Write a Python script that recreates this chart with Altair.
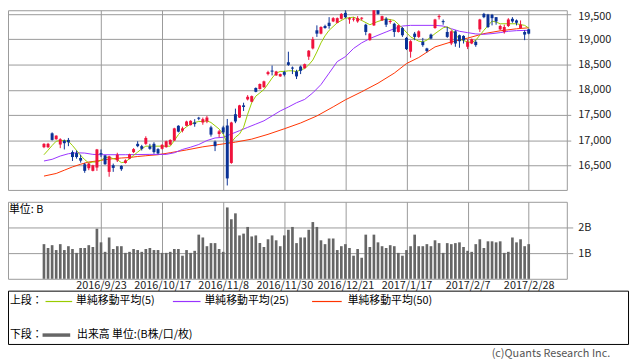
import altair as alt
import pandas as pd

FONT = "Noto Sans CJK JP"
RED = "#f0123c"
BLUE = "#0a3296"
C5 = "#99cc00"
C25 = "#9933ff"
C50 = "#ff3300"
GRID = "#999999"

dates = ["2016/9/23", "2016/10/17", "2016/11/8", "2016/11/30",
         "2016/12/21", "2017/1/17", "2017/2/7", "2017/2/28"]
date_pos = [14, 29, 44, 59, 74, 89, 104, 119]
price_ticks = [16500, 17000, 17500, 18000, 18500, 19000, 19500]
vol_ticks = [1, 2]

open_ = [16860, 16860, 17135, 17017, 16913, 16991, 17004, 16762, 16743, 16645,
         16521, 16442, 16390, 16455, 16743, 16697, 16370, 16501, 16599, 16488,
         16547, 16632, 16762, 16926, 16880, 16926, 16874, 16926, 16821, 16828,
         16860, 16913, 16991, 17285, 17187, 17285, 17298, 17350, 17445, 17350,
         17370, 17253, 16971, 17122, 17253, 17290, 16547, 17514, 17448, 17690,
         17808, 17762, 18036, 18017, 18050, 18311, 18380, 18285, 18265, 18350,
         18546, 18440, 18363, 18461, 18428, 18657, 18820, 19180, 19114, 19265,
         19330, 19356, 19330, 19408, 19526, 19395, 19392, 19356, 19410, 19291,
         18984, 19278, 19604, 19376, 19408, 19345, 19310, 19147, 19225, 19029,
         18755, 19114, 19049, 18951, 18820, 19095, 19225, 19442, 19362, 19147,
         18918, 19160, 19082, 19069, 18853, 18918, 18951, 19199, 19506, 19493,
         19487, 19441, 19199, 19147, 19265, 19408, 19376, 19225, 19147, 19199]
high = [16939, 16945, 17154, 17095, 17037, 17011, 17043, 16795, 16795, 16710,
        16547, 16553, 16510, 16825, 16815, 16705, 16690, 16534, 16749, 16501,
        16619, 16730, 16841, 16978, 16906, 17076, 16926, 16958, 16840, 16920,
        16990, 17015, 17245, 17295, 17266, 17385, 17395, 17416, 17462, 17448,
        17481, 17285, 16991, 17200, 17285, 17420, 17365, 17625, 17700, 17742,
        17893, 17885, 18045, 18125, 18180, 18376, 18481, 18375, 18320, 18376,
        18755, 18461, 18396, 18481, 18520, 18788, 19049, 19278, 19260, 19291,
        19441, 19441, 19435, 19520, 19604, 19441, 19441, 19461, 19441, 19310,
        19125, 19604, 19617, 19470, 19441, 19395, 19330, 19290, 19245, 19049,
        18984, 19147, 19180, 19029, 18833, 19114, 19408, 19493, 19395, 19245,
        19180, 19180, 19095, 19082, 19003, 19015, 18984, 19408, 19526, 19506,
        19506, 19441, 19291, 19291, 19421, 19441, 19395, 19376, 19180, 19210]
low = [16841, 16841, 16991, 17010, 16841, 16815, 16880, 16586, 16632, 16553,
       16351, 16403, 16380, 16390, 16664, 16510, 16273, 16370, 16566, 16390,
       16534, 16620, 16743, 16860, 16795, 16906, 16808, 16730, 16720, 16815,
       16850, 16900, 16985, 17155, 17154, 17275, 17290, 17266, 17396, 17305,
       17337, 17070, 16782, 17056, 17122, 16100, 16530, 17337, 17440, 17579,
       17788, 17750, 17950, 18005, 18040, 18285, 18285, 18275, 18255, 18265,
       18474, 18311, 18213, 18311, 18420, 18592, 18801, 19049, 19100, 19212,
       19212, 19343, 19320, 19395, 19421, 19310, 19356, 19330, 19376, 19082,
       18975, 19265, 19487, 19365, 19245, 19310, 19049, 19135, 19049, 18788,
       18637, 18984, 19029, 18853, 18742, 19003, 19212, 19395, 19291, 19029,
       18886, 18853, 18833, 18918, 18807, 18905, 18853, 19147, 19421, 19225,
       19278, 19291, 19180, 19114, 19245, 19330, 19278, 19212, 18984, 19100]
close = [16926, 16926, 17004, 17089, 17017, 16939, 16958, 16664, 16664, 16593,
         16390, 16534, 16501, 16815, 16717, 16521, 16677, 16449, 16710, 16423,
         16599, 16717, 16821, 16880, 16828, 17043, 16828, 16762, 16736, 16906,
         16978, 17004, 17233, 17168, 17233, 17370, 17383, 17318, 17425, 17416,
         17448, 17109, 16880, 17174, 17154, 16240, 17350, 17370, 17690, 17658,
         17860, 17873, 17958, 18115, 18167, 18350, 18360, 18363, 18311, 18298,
         18494, 18420, 18265, 18376, 18507, 18775, 19003, 19114, 19245, 19225,
         19265, 19421, 19421, 19506, 19441, 19421, 19412, 19421, 19430, 19147,
         19114, 19591, 19506, 19461, 19291, 19365, 19147, 19278, 19082, 18807,
         18964, 19049, 19160, 18886, 18768, 19016, 19395, 19462, 19342, 19049,
         19160, 18918, 18964, 18984, 18951, 19003, 18886, 19395, 19441, 19245,
         19421, 19356, 19265, 19245, 19395, 19356, 19330, 19291, 19095, 19114]
volume = [1.35, 1.20, 1.31, 1.12, 1.35, 1.12, 1.27, 1.16, 1.01, 1.20,
          1.20, 1.31, 1.24, 1.95, 1.42, 1.05, 1.61, 1.16, 1.27, 1.27,
          1.01, 1.05, 1.16, 1.12, 1.05, 1.16, 1.20, 1.12, 1.12, 1.01,
          1.01, 1.05, 1.16, 1.16, 0.90, 1.12, 1.01, 1.09, 1.72, 1.61,
          1.27, 1.39, 1.39, 1.16, 1.05, 2.78, 2.32, 2.55, 1.69, 1.76,
          2.02, 1.65, 1.69, 1.39, 1.24, 1.54, 1.69, 1.50, 1.27, 1.69,
          1.91, 2.02, 1.39, 1.61, 1.61, 1.91, 2.21, 2.02, 1.50, 1.35,
          1.57, 1.57, 1.12, 1.27, 1.35, 1.20, 0.90, 1.16, 0.82, 1.72,
          1.24, 1.72, 1.42, 1.27, 1.20, 1.31, 1.27, 1.01, 0.90, 1.12,
          1.27, 1.72, 1.27, 1.27, 1.35, 1.27, 1.50, 1.39, 1.01, 1.39,
          1.35, 1.39, 1.42, 1.24, 1.09, 1.05, 1.35, 1.54, 1.20, 1.46,
          1.46, 1.42, 1.46, 1.01, 1.05, 1.61, 1.42, 1.54, 1.27, 1.35]

ma5_pos = [0, 1, 2, 3, 4, 5, 6, 7, 8, 9, 10, 11, 12, 13, 14, 15, 16, 17, 18, 19,
           20, 21, 22, 23, 24, 25, 31, 32, 33, 34, 35, 36, 37, 38, 39, 40, 41,
           42, 43, 44, 45, 46, 47, 48, 49, 50, 51, 52, 53, 54, 55, 56, 57, 58,
           59, 60, 61, 62, 63, 64, 65, 66, 67, 68, 69, 70, 72, 74, 76, 78, 80,
           82, 84, 86, 88, 90, 92, 93, 94, 96, 98, 99, 100, 102, 104, 105, 106,
           108, 110, 111, 112, 114, 116, 118, 119]
ma5 = [16710, 16800, 16893, 16978, 16991, 16991, 16978, 16893, 16795, 16697,
       16612, 16547, 16566, 16566, 16599, 16651, 16664, 16632, 16612, 16553,
       16566, 16632, 16697, 16762, 16828, 16880, 16880, 16991, 17109, 17200,
       17266, 17318, 17350, 17370, 17370, 17383, 17350, 17285, 17220, 17122,
       16939, 16958, 17056, 17122, 17253, 17514, 17742, 17873, 17938, 18004,
       18115, 18232, 18330, 18363, 18363, 18376, 18376, 18360, 18396, 18420,
       18494, 18590, 18750, 18930, 19070, 19180, 19330, 19420, 19441, 19376,
       19291, 19356, 19408, 19376, 19225, 19049, 18964, 18951, 18984, 19114,
       19230, 19250, 19199, 19003, 18951, 18938, 18984, 19180, 19363, 19343,
       19310, 19310, 19310, 19278, 19225]

ma25_pos = [0, 2, 4, 6, 8, 10, 12, 14, 20, 26, 30, 32, 34, 36, 38, 40, 42, 44,
            46, 48, 50, 52, 54, 56, 58, 60, 62, 64, 66, 68, 70, 72, 74, 76, 78,
            80, 82, 84, 86, 88, 90, 96, 98, 100, 102, 104, 106, 108, 110, 112,
            114, 116, 119]
ma25 = [16586, 16619, 16684, 16730, 16749, 16743, 16717, 16710, 16710, 16717,
        16717, 16749, 16815, 16860, 16913, 16991, 17043, 17056, 17122, 17187,
        17253, 17318, 17383, 17481, 17579, 17657, 17742, 17808, 17938, 18102,
        18330, 18559, 18657, 18820, 18931, 19016, 19082, 19147, 19212, 19265,
        19278, 19278, 19265, 19212, 19160, 19134, 19108, 19101, 19114, 19134,
        19160, 19173, 19180]

ma50_pos = [0, 3, 5, 7, 9, 11, 13, 15, 17, 19, 21, 23, 25, 28, 31, 35, 39, 43,
            47, 51, 55, 59, 63, 67, 71, 74, 78, 82, 86, 89, 92, 96, 100, 104,
            108, 112, 116, 119]
ma50 = [16286, 16338, 16403, 16468, 16521, 16566, 16586, 16612, 16632, 16645,
        16655, 16675, 16690, 16710, 16750, 16805, 16867, 16913, 16960, 17020,
        17115, 17225, 17340, 17480, 17660, 17800, 17960, 18130, 18330, 18520,
        18640, 18850, 18950, 19025, 19114, 19170, 19210, 19230]

df = pd.DataFrame({"i": list(range(len(close))), "open": open_, "high": high,
                   "low": low, "close": close, "vol": volume})
df5 = pd.DataFrame({"i": ma5_pos, "v": ma5})
df25 = pd.DataFrame({"i": ma25_pos, "v": ma25})
df50 = pd.DataFrame({"i": ma50_pos, "v": ma50})
one = pd.DataFrame({"k": [0]})

PW = 566
x_scale = alt.Scale(domain=[(8 - 40) / 4.2, (574 - 40) / 4.2], nice=False, zero=False)
y_scale = alt.Scale(domain=[16011, 19578], nice=False, zero=False, clamp=True)

x_top_axis = alt.Axis(values=date_pos, labels=False, ticks=False, domain=False,
                      grid=True, title=None)
y_top_axis = alt.Axis(orient="right", values=price_ticks, format=",d", tickSize=4,
                      labelPadding=7, domain=False, grid=True, title=None,
                      labelOffset={"condition": {"test": "datum.value >= 19500", "value": 2},
                                   "value": 0})


def X():
    return alt.X("i:Q", scale=x_scale, axis=x_top_axis)


def Y(field):
    return alt.Y(field, scale=y_scale, axis=y_top_axis)


dir_color = alt.Color("dir:N", scale=alt.Scale(domain=["up", "down"], range=[RED, BLUE]),
                      legend=None)
calc = "datum.close >= datum.open ? 'up' : 'down'"

l50 = alt.Chart(df50).mark_line(color=C50, strokeWidth=1).encode(x=X(), y=Y("v:Q"))
l25 = alt.Chart(df25).mark_line(color=C25, strokeWidth=1).encode(x=X(), y=Y("v:Q"))
l5 = alt.Chart(df5).mark_line(color=C5, strokeWidth=1).encode(x=X(), y=Y("v:Q"))
wick = alt.Chart(df).transform_calculate(dir=calc).mark_rule(strokeWidth=1).encode(
    x=X(), y=Y("low:Q"), y2="high:Q", color=dir_color)
body = alt.Chart(df).transform_calculate(dir=calc).mark_bar(size=3).encode(
    x=X(), y=Y("open:Q"), y2="close:Q", color=dir_color)

top = alt.layer(l50, l25, l5, wick, body).properties(width=PW, height=182)

label_expr = "[" + ",".join("'%s'" % d for d in dates) + "][indexof([" + \
    ",".join(str(p) for p in date_pos) + "], datum.value)]"

vol_bars = alt.Chart(df).mark_bar(size=2.7, color="#666666").encode(
    x=alt.X("i:Q", scale=x_scale,
            axis=alt.Axis(values=date_pos, labelExpr=label_expr, ticks=False, domain=False,
                          grid=True, labelPadding=1, labelOverlap=False, labelFlush=False,
                          title=None)),
    y=alt.Y("vol:Q", scale=alt.Scale(domain=[0, 3], nice=False),
            axis=alt.Axis(orient="right", values=vol_ticks, labelExpr="datum.value + 'B'",
                          tickSize=6, labelPadding=5, domain=False, grid=True, title=None)),
)
unit_txt = alt.Chart(one).mark_text(text="単位: B", align="left", baseline="middle",
                                    font=FONT, fontSize=11, color="#000000").encode(
    x=alt.value(1), y=alt.value(8))
vol_panel = alt.layer(vol_bars, unit_txt).properties(width=PW, height=78)


def txt(s, x, y, align="left", color="#000000"):
    return alt.Chart(one).mark_text(text=s, align=align, baseline="middle", font=FONT,
                                    fontSize=11, color=color).encode(
        x=alt.value(x), y=alt.value(y))


def seg(x1, x2, y, color, w):
    return alt.Chart(one).mark_rule(color=color, strokeWidth=w).encode(
        x=alt.value(x1), x2=alt.value(x2), y=alt.value(y))


box = alt.Chart(one).mark_rect(fillOpacity=0, stroke="#000000", strokeWidth=1).encode(
    x=alt.value(0.5), x2=alt.value(628.5), y=alt.value(0.5), y2=alt.value(54.5))

legend_panel = alt.layer(
    box,
    txt("上段：", 2, 11),
    seg(38, 65, 11, C5, 1.2), txt("単純移動平均(5)", 69, 11),
    seg(167, 195, 11, C25, 1.2), txt("単純移動平均(25)", 199, 11),
    seg(308, 338, 11, C50, 1.2), txt("単純移動平均(50)", 344, 11),
    txt("下段：", 2, 45),
    seg(35, 63, 45, "#666666", 3.5), txt("出来高 単位:(B株/口/枚)", 70, 45),
    txt("(c)Quants Research Inc.", 610, 64, align="right", color="#555555"),
).properties(width=629, height=70, view=alt.ViewBackground(stroke="transparent"))

chart = alt.vconcat(top, vol_panel, legend_panel, spacing=12, bounds="flush").properties(
    padding={"left": -1, "top": -1, "right": 0, "bottom": 0}
).configure_view(stroke=GRID, strokeWidth=1).configure_axis(
    labelFont=FONT, labelFontSize=11, labelColor="#222222", gridColor=GRID, gridWidth=1,
    tickColor=GRID, gridOpacity=1
).configure_text(font=FONT)

chart.save("out.html", embed_options={"renderer": "svg", "actions": False})
